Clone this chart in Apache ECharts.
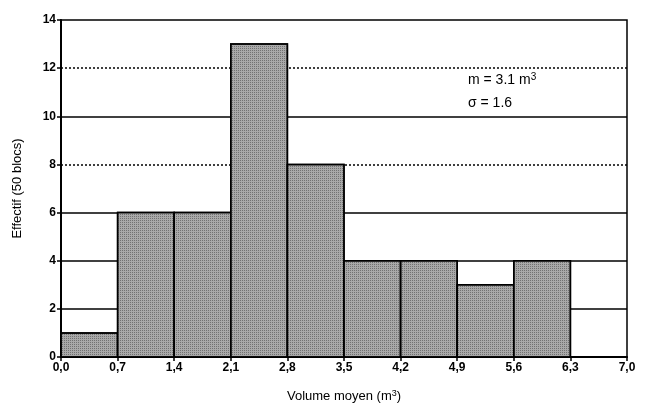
<!DOCTYPE html>
<html>
<head>
<meta charset="utf-8">
<script src="https://cdn.jsdelivr.net/npm/echarts@6/dist/echarts.min.js"></script>
<style>
html,body{margin:0;padding:0;background:#fff;}
#main{width:647px;height:408px;}
</style>
</head>
<body>
<div id="main"></div>
<script>
// classes de volume (m3) et effectifs
var binStart = [0.0, 0.7, 1.4, 2.1, 2.8, 3.5, 4.2, 4.9, 5.6];
var binEnd   = [0.7, 1.4, 2.1, 2.8, 3.5, 4.2, 4.9, 5.6, 6.3];
var effectif = [1, 6, 6, 13, 8, 4, 4, 3, 4];
var dottedLevels = [8, 12];
var solidLevels = [2, 4, 6, 10];

var chartData = [];
for (var i = 0; i < effectif.length; i++) {
	chartData.push([binStart[i], binEnd[i], effectif[i]]);
}

var fontFam = 'Liberation Sans, Arial, sans-serif';

var myChart = echarts.init(document.getElementById('main'));
var option = {
	animation: false,
	backgroundColor: '#fff',
	grid: {
		left: 61, right: 20, top: 20, bottom: 50,
		show: true, borderColor: '#000', borderWidth: 1.5
	},
	xAxis: {
		type: 'value', min: 0, max: 7, interval: 0.7,
		axisLine: {show: true, lineStyle: {color: '#000', width: 2}},
		axisTick: {show: true, length: 4, lineStyle: {color: '#000', width: 1.5}},
		splitLine: {show: false},
		axisLabel: {
			color: '#000', fontSize: 12, fontWeight: 'bold', fontFamily: fontFam, margin: 5,
			formatter: function(v){ return v.toFixed(1).replace('.', ','); }
		},
		name: 'Volume moyen (m{s|3})',
		nameLocation: 'middle', nameGap: 32,
		nameTextStyle: {
			color: '#000', fontSize: 13, fontFamily: fontFam,
			rich: {s: {fontSize: 9, verticalAlign: 'top', padding: [0,0,6,0], fontFamily: fontFam}}
		}
	},
	yAxis: {
		type: 'value', min: 0, max: 14, interval: 2,
		axisLine: {show: true, lineStyle: {color: '#000', width: 2}},
		axisTick: {show: true, length: 4, lineStyle: {color: '#000', width: 1.5}},
		splitLine: {show: false},
		axisLabel: {color: '#000', fontSize: 12, fontWeight: 'bold', fontFamily: fontFam, margin: 5},
		name: 'Effectif (50 blocs)',
		nameLocation: 'middle', nameGap: 37,
		nameTextStyle: {color: '#000', fontSize: 13, fontFamily: fontFam}
	},
	graphic: [
		{
			type: 'text', left: 468, top: 72,
			style: {
				text: 'm = 3.1 m{s|3}',
				fontSize: 14, fontFamily: fontFam, fill: '#000',
				rich: {s: {fontSize: 10, verticalAlign: 'top', padding: [0,0,7,0], fontFamily: fontFam}}
			}
		},
		{
			type: 'text', left: 468, top: 96,
			style: {text: 'σ = 1.6', fontSize: 14, fontFamily: fontFam, fill: '#000'}
		}
	],
	series: [
		{
			// lignes horizontales de niveau (derrière les barres)
			type: 'line', data: [], z: 1,
			markLine: {
				silent: true, symbol: 'none', label: {show: false},
				data: dottedLevels.map(function(v){
					return {yAxis: v, lineStyle: {color: '#000', type: [2, 2], width: 1.5}};
				}).concat(solidLevels.map(function(v){
					return {yAxis: v, lineStyle: {color: '#000', type: 'solid', width: 1.5}};
				}))
			}
		},
		{
			type: 'custom', z: 5,
			renderItem: function(params, api){
				var p0 = api.coord([api.value(0), api.value(2)]);
				var p1 = api.coord([api.value(1), 0]);
				return {
					type: 'rect',
					shape: {x: p0[0], y: p0[1], width: p1[0] - p0[0], height: p1[1] - p0[1]},
					style: {
						fill: '#a9a9a9', stroke: '#000', lineWidth: 1.5,
						decal: {symbol: 'rect', symbolSize: 1, dashArrayX: [1, 1], dashArrayY: [1, 1], color: 'rgba(60,60,60,0.5)'}
					}
				};
			},
			encode: {x: [0, 1], y: 2},
			data: chartData
		}
	]
};
myChart.setOption(option);
</script>
</body>
</html>
